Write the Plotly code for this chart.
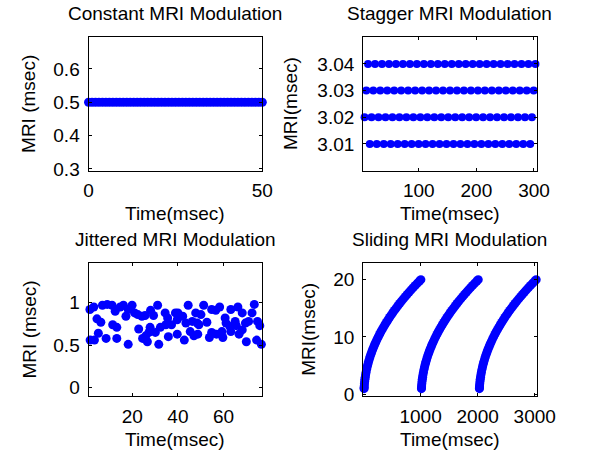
import plotly.graph_objects as go

# ---------------- data ----------------
# Constant MRI modulation
const_time = [0, 1, 2, 3, 4, 5, 6, 7, 8, 9, 10, 11, 12, 13, 14, 15, 16, 17, 18, 19, 20,
              21, 22, 23, 24, 25, 26, 27, 28, 29, 30, 31, 32, 33, 34, 35, 36, 37, 38, 39, 40,
              41, 42, 43, 44, 45, 46, 47, 48, 49, 50]
const_mri = [0.5, 0.5, 0.5, 0.5, 0.5, 0.5, 0.5, 0.5, 0.5, 0.5, 0.5, 0.5, 0.5, 0.5, 0.5, 0.5, 0.5,
             0.5, 0.5, 0.5, 0.5, 0.5, 0.5, 0.5, 0.5, 0.5, 0.5, 0.5, 0.5, 0.5, 0.5, 0.5, 0.5, 0.5,
             0.5, 0.5, 0.5, 0.5, 0.5, 0.5, 0.5, 0.5, 0.5, 0.5, 0.5, 0.5, 0.5, 0.5, 0.5, 0.5, 0.5]

# Stagger MRI modulation (four levels, times of the pulses on each level)
stagger_levels = [3.01, 3.02, 3.03, 3.04]
stagger_t_301 = [3.01, 15.11, 27.21, 39.31, 51.41, 63.51, 75.61, 87.71, 99.81, 111.91, 124.01,
                 136.11, 148.21, 160.31, 172.41, 184.51, 196.61, 208.71, 220.81, 232.91, 245.01,
                 257.11, 269.21, 281.31, 293.41]
stagger_t_302 = [6.03, 18.13, 30.23, 42.33, 54.43, 66.53, 78.63, 90.73, 102.83, 114.93, 127.03,
                 139.13, 151.23, 163.33, 175.43, 187.53, 199.63, 211.73, 223.83, 235.93, 248.03,
                 260.13, 272.23, 284.33, 296.43]
stagger_t_303 = [9.06, 21.16, 33.26, 45.36, 57.46, 69.56, 81.66, 93.76, 105.86, 117.96, 130.06,
                 142.16, 154.26, 166.36, 178.46, 190.56, 202.66, 214.76, 226.86, 238.96, 251.06,
                 263.16, 275.26, 287.36, 299.46]
stagger_t_304 = [12.1, 24.2, 36.3, 48.4, 60.5, 72.6, 84.7, 96.8, 108.9, 121.0, 133.1, 145.2,
                 157.3, 169.4, 181.5, 193.6, 205.7, 217.8, 229.9, 242.0, 254.1, 266.2, 278.3,
                 290.4, 302.5]

# Jittered MRI modulation
jitter_time = [1.4, 1.5, 3.1, 3.4, 4.5, 5.1, 6.2, 6.9, 8.5, 9.0, 11.1, 11.4, 12.5, 13.2, 13.2,
               14.7, 16.1, 17.2, 18.2, 18.2, 19.9, 21.0, 22.4, 22.8, 24.2, 24.5, 25.6, 25.9,
               26.6, 27.3, 27.8, 28.0, 29.3, 30.1, 31.1, 31.6, 32.3, 34.4, 34.7, 35.5, 35.8,
               37.2, 38.9, 39.7, 39.7, 40.0, 42.1, 42.8, 43.5, 44.5, 45.4, 46.3, 47.0, 47.8,
               48.5, 48.7, 49.2, 50.1, 51.3, 52.7, 53.8, 54.8, 54.8, 56.6, 56.9, 58.3, 59.3,
               59.7, 60.7, 61.1, 62.8, 63.2, 63.2, 65.1, 65.6, 66.3, 66.8, 68.2, 68.2, 69.6,
               70.0, 71.0, 72.5, 73.5, 74.5, 74.9, 75.9, 76.6, 77.6]
jitter_mri = [0.92, 0.56, 0.95, 0.56, 0.81, 0.64, 0.77, 0.97, 0.58, 0.98, 0.97, 0.74, 0.90, 0.71,
              0.58, 0.95, 0.97, 0.84, 0.92, 0.51, 0.97, 0.88, 0.86, 0.69, 0.84, 0.58, 0.85, 0.61,
              0.54, 0.65, 0.71, 0.91, 0.85, 0.65, 0.97, 0.51, 0.71, 0.88, 0.74, 0.82, 0.60,
              0.74, 0.88, 0.80, 0.63, 0.88, 0.84, 0.56, 0.76, 0.97, 0.66, 0.78, 0.61, 0.88,
              0.76, 0.63, 0.74, 0.86, 0.97, 0.77, 0.59, 0.92, 0.65, 0.91, 0.63, 0.95, 0.66,
              0.59, 0.82, 0.76, 0.72, 0.92, 0.66, 0.78, 0.73, 0.95, 0.63, 0.88, 0.68, 0.76,
              0.54, 0.78, 0.88, 0.98, 0.56, 0.78, 0.73, 0.51, 0.67]

# Sliding MRI modulation (three ramps, same MRI profile on each)
slide_t_1 = [10, 11, 13, 16, 20, 25, 30, 37, 45, 55, 65, 75, 87, 100, 115, 130, 145, 162, 180,
             198, 217, 237, 258, 280, 302, 325, 350, 375, 400, 427, 455, 483, 512, 541, 571,
             602, 633, 665, 698, 731, 765, 800, 835, 871, 907, 944, 981, 1005]
slide_t_2 = [1015, 1016, 1018, 1021, 1025, 1030, 1035, 1042, 1050, 1060, 1070, 1080, 1092, 1105,
             1120, 1135, 1150, 1167, 1185, 1203, 1222, 1242, 1263, 1285, 1307, 1330, 1355, 1380,
             1405, 1432, 1460, 1488, 1517, 1546, 1576, 1607, 1638, 1670, 1703, 1736, 1770, 1805,
             1840, 1876, 1912, 1949, 1986, 2010]
slide_t_3 = [2030, 2031, 2033, 2036, 2040, 2045, 2050, 2057, 2065, 2075, 2085, 2095, 2107, 2120,
             2135, 2150, 2165, 2182, 2200, 2218, 2237, 2257, 2278, 2300, 2322, 2345, 2370, 2395,
             2420, 2447, 2475, 2503, 2532, 2561, 2591, 2622, 2653, 2685, 2718, 2751, 2785, 2820,
             2855, 2891, 2927, 2964, 3001, 3025]
slide_mri_ramp = [1.00, 1.18, 1.48, 1.84, 2.24, 2.65, 3.00, 3.44, 3.87, 4.36, 4.80, 5.20, 5.64,
                  6.08, 6.56, 7.00, 7.42, 7.86, 8.31, 8.73, 9.15, 9.58, 10.01, 10.44, 10.85,
                  11.27, 11.70, 12.12, 12.53, 12.95, 13.38, 13.79, 14.21, 14.61, 15.01, 15.42,
                  15.82, 16.22, 16.62, 17.01, 17.41, 17.80, 18.19, 18.58, 18.97, 19.36, 19.73,
                  19.97]

titles = ["Constant MRI Modulation", "Stagger MRI Modulation",
          "Jittered MRI Modulation", "Sliding MRI Modulation"]
ylabels = ["MRI (msec)", "MRI(msec)", "MRI (msec)", "MRI(msec)"]
xlabel = "Time(msec)"

# ---------------- figure ----------------
W, H = 601, 463
FONT = "Arial, Liberation Sans, sans-serif"
BLUE = "#0000ff"
FS = 19

fig = go.Figure()

def add(x, y, axis_idx, size):
    sfx = "" if axis_idx == 1 else str(axis_idx)
    fig.add_trace(go.Scatter(x=x, y=y, mode="markers", xaxis="x" + sfx, yaxis="y" + sfx,
                             marker=dict(color=BLUE, size=size, line=dict(width=0)),
                             cliponaxis=False, showlegend=False, hoverinfo="skip"))

add(const_time, const_mri, 1, 9)

st_x, st_y = [], []
for lvl, ts in zip(stagger_levels, [stagger_t_301, stagger_t_302, stagger_t_303, stagger_t_304]):
    st_x += ts
    st_y += [lvl] * len(ts)
add(st_x, st_y, 2, 8)

add(jitter_time, jitter_mri, 3, 9)

sl_x, sl_y = [], []
for ts in [slide_t_1, slide_t_2, slide_t_3]:
    sl_x += ts
    sl_y += slide_mri_ramp
add(sl_x, sl_y, 4, 9)

# pixel boxes of the four axes (left, right, top, bottom)
boxes = [(87, 268, 38, 174), (373, 554, 38, 174), (87, 268, 268, 404), (373, 554, 268, 404)]

x_ranges = [[0, 50], [3.5, 305], [0.8, 77.0], [-7, 3037]]
y_ranges = [[0.295, 0.695], [3.0, 3.05], [-0.1, 1.47], [-0.3, 22.9]]
x_ticks = [[0, 50], [100, 200, 300], [20, 40, 60], [1000, 2000, 3000]]
x_ticktext = [["0", "50"], ["100", "200", "300"], ["20", "40", "60"], ["1000", "2000", "3000"]]
y_ticks = [[0.3, 0.4, 0.5, 0.6], [3.01, 3.02, 3.03, 3.04], [0, 0.5, 1], [0, 10, 20]]
y_ticktext = [["0.3", "0.4", "0.5", "0.6"], ["3.01", "3.02", "3.03", "3.04"],
              ["0", "0.5", "1"], ["0", "10", "20"]]

ylabel_x = [25, 298, 25, 316]

axis_common = dict(showline=True, linecolor="black", linewidth=1, mirror="ticks",
                   ticks="inside", ticklen=3, tickcolor="black", tickwidth=1,
                   showgrid=False, zeroline=False, fixedrange=True,
                   tickfont=dict(family=FONT, size=FS, color="black"))

layout = dict(width=W, height=H, margin=dict(l=0, r=0, t=0, b=0),
              paper_bgcolor="white", plot_bgcolor="white",
              font=dict(family=FONT, size=FS, color="black"))
annotations = []
for i in range(4):
    l, r, t, b = boxes[i]
    sfx = "" if i == 0 else str(i + 1)
    layout["xaxis" + sfx] = dict(axis_common, domain=[l / W, r / W], range=x_ranges[i],
                                 tickmode="array", tickvals=x_ticks[i], ticktext=x_ticktext[i],
                                 anchor="y" + sfx, ticklabelstandoff=3)
    layout["yaxis" + sfx] = dict(axis_common, domain=[1 - b / H, 1 - t / H], range=y_ranges[i],
                                 tickmode="array", tickvals=y_ticks[i], ticktext=y_ticktext[i],
                                 anchor="x" + sfx, ticklabelstandoff=4)
    cx = (l + r) / 2
    annotations.append(dict(text=titles[i], x=cx / W, y=1 - (t - 24) / H, xref="paper",
                            yref="paper", showarrow=False, xanchor="center", yanchor="middle",
                            font=dict(family=FONT, size=FS, color="black")))
    annotations.append(dict(text=xlabel, x=cx / W, y=1 - (b + 44) / H, xref="paper",
                            yref="paper", showarrow=False, xanchor="center", yanchor="middle",
                            font=dict(family=FONT, size=FS, color="black")))
    annotations.append(dict(text=ylabels[i], x=ylabel_x[i] / W, y=1 - ((t + b) / 2) / H,
                            xref="paper", yref="paper", showarrow=False, textangle=-90,
                            xanchor="center", yanchor="middle",
                            font=dict(family=FONT, size=FS, color="black")))
layout["annotations"] = annotations
fig.update_layout(**layout)

fig.write_html("out.html")
